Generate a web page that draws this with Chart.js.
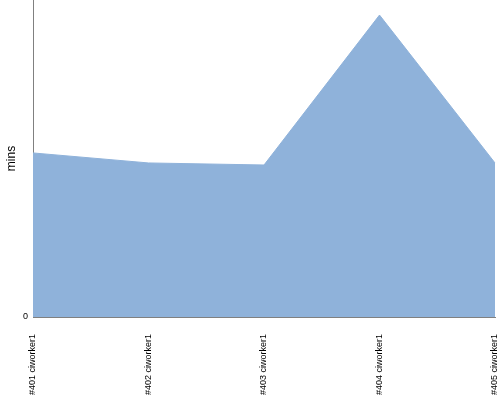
<!DOCTYPE html>
<html>
<head>
<meta charset="utf-8">
<script src="https://cdn.jsdelivr.net/npm/chart.js@4/dist/chart.umd.min.js"></script>
<style>
  html, body { margin: 0; padding: 0; background: #fff; }
  #wrap { width: 500px; height: 400px; }
</style>
</head>
<body>
<div id="wrap"><canvas id="buildChart"></canvas></div>
<script>
// build durations per worker run
const builds = ['#401 ciworker1', '#402 ciworker1', '#403 ciworker1', '#404 ciworker1', '#405 ciworker1'];
const minutes = [10.35, 9.72, 9.59, 19.05, 9.72];
const yMax = 20;

const ctx = document.getElementById('buildChart').getContext('2d');
new Chart(ctx, {
    type: 'line',
    data: {
        labels: builds,
        datasets: [
            {
                data: minutes,
                fill: 'origin',
                backgroundColor: '#8fb2da',
                borderColor: '#8fb2da',
                borderWidth: 1,
                pointRadius: 0,
                tension: 0
            }
        ]
    },
    options: {
        responsive: true,
        maintainAspectRatio: false,
        animation: false,
        layout: { padding: { top: 0, right: 5, bottom: 0, left: 0 } },
        plugins: { legend: { display: false }, tooltip: { enabled: false } },
        scales: {
            x: {
                offset: false,
                grid: { display: false, drawTicks: false },
                border: { display: true, color: '#808080' },
                afterFit: scale => {
                    scale.height = 83;
                    scale.paddingRight = 0;
                    scale.paddingLeft = 0;
                },
                ticks: {
                    autoSkip: false,
                    minRotation: 90,
                    maxRotation: 90,
                    padding: 17,
                    color: '#000',
                    font: { family: 'Liberation Sans', size: 9 }
                }
            },
            y: {
                min: 0,
                max: yMax,
                grid: { display: false, drawTicks: false },
                border: { display: true, color: '#808080' },
                afterBuildTicks: axis => { axis.ticks = [{ value: 0 }]; },
                afterFit: scale => {
                    scale.width = 33;
                    scale.paddingTop = 0;
                    scale.paddingBottom = 0;
                },
                ticks: {
                    padding: 5,
                    color: '#000',
                    font: { family: 'Liberation Sans', size: 9 }
                },
                title: {
                    display: true,
                    text: 'mins',
                    color: '#000',
                    padding: 4,
                    font: { family: 'Liberation Sans', size: 12 }
                }
            }
        }
    }
});
</script>
</body>
</html>
